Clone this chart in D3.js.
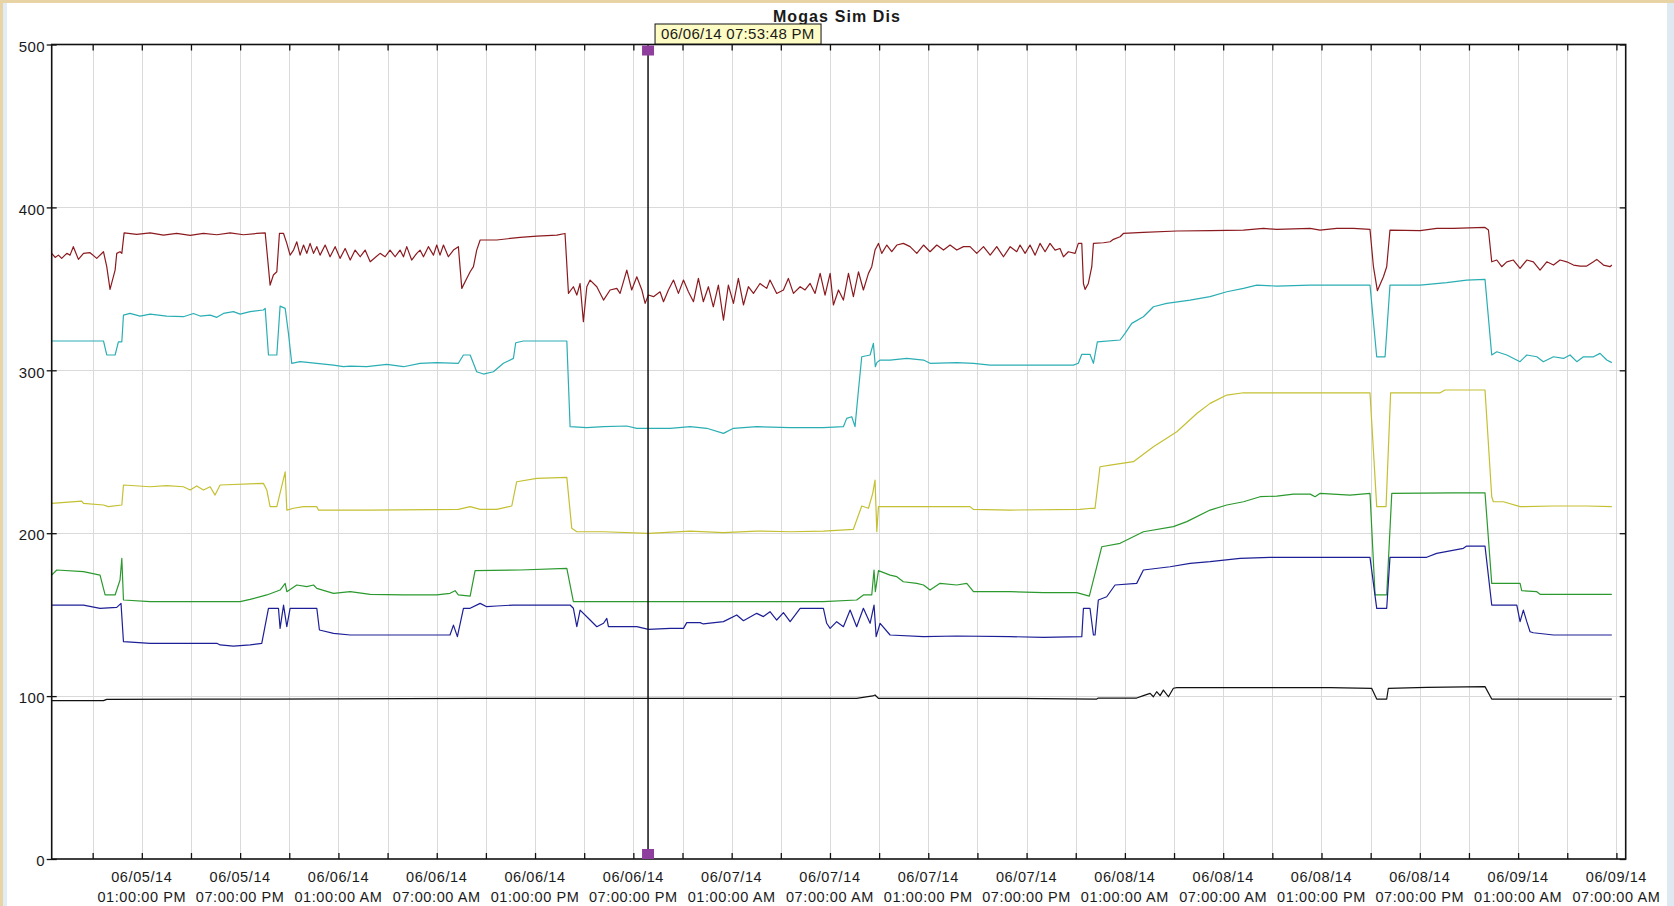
<!DOCTYPE html>
<html>
<head>
<meta charset="utf-8">
<script src="https://cdn.jsdelivr.net/npm/d3@7"></script>
<style>
  html, body { margin: 0; padding: 0; background: #e7d3a4; }
  svg { display: block; }
  text { font-family: "Liberation Sans", Arial, sans-serif; fill: #1a1a1a; }
</style>
</head>
<body>
<svg id="chart" width="1674" height="906"></svg>
<script>
// ---------------- DATA ----------------
const chartTitle = "Mogas Sim Dis";
const startTime = new Date(2014, 5, 5, 7, 30, 0);   // 06/05/14 07:30 AM
const endTime   = new Date(2014, 5, 9, 7, 34, 0);   // 06/09/14 07:34 AM
const cursorTime = new Date(2014, 5, 6, 19, 53, 48);
const cursorLabel = "06/06/14 07:53:48 PM";
const yTicks = [0, 100, 200, 300, 400, 500];

// [hours since start, value]
const seriesRed = [
  [0,371.8],[0.21,369.3],[0.41,370.7],[0.61,368.7],[0.92,371.8],[1.12,370.7],[1.32,375.9],[1.63,368.1],
  [1.94,371.8],[2.34,372.2],[2.75,368.7],[3.16,372.8],[3.36,363.6],[3.56,349.7],[3.87,361.5],[3.97,371.8],
  [4.17,372.8],[4.28,371.8],[4.42,384.4],[5.19,383.4],[6.01,384.4],[6.82,383.0],[7.63,384.0],[8.45,382.8],
  [9.26,384.0],[10.08,383.2],[10.89,384.4],[11.70,383.2],[12.52,384.0],[13.03,384.4],[13.13,373.8],[13.33,352.3],
  [13.53,358.5],[13.74,360.5],[13.90,384.0],[14.15,384.0],[14.35,377.9],[14.55,370.7],[14.76,373.8],[14.96,378.9],
  [15.16,370.7],[15.37,376.9],[15.57,371.8],[15.77,377.9],[15.98,371.8],[16.18,375.9],[16.38,370.7],[16.69,376.9],
  [16.99,369.7],[17.30,375.9],[17.60,368.7],[17.91,374.8],[18.22,367.7],[18.52,373.8],[18.83,369.7],[19.13,373.8],
  [19.44,366.6],[20.04,371.8],[20.35,369.7],[20.65,373.8],[20.96,369.7],[21.26,373.8],[21.47,369.7],[21.67,375.9],
  [21.97,367.7],[22.28,371.8],[22.48,373.8],[22.69,369.7],[22.99,375.9],[23.30,370.7],[23.50,376.9],[23.70,370.7],
  [23.91,376.9],[24.21,369.7],[24.52,373.8],[24.82,375.9],[25.03,350.3],[25.33,356.4],[25.54,360.5],[25.74,363.6],
  [25.94,373.8],[26.15,380.0],[27.16,380.0],[28.59,381.6],[29.61,382.4],[30.83,383.0],[31.33,384.0],[31.54,347.2],
  [31.84,351.3],[32.05,346.2],[32.25,353.3],[32.45,329.8],[32.66,351.3],[32.86,355.4],[33.27,351.3],[33.68,343.1],
  [34.08,349.3],[34.49,350.3],[34.69,347.2],[35.10,361.5],[35.40,349.3],[35.71,357.4],[36.02,349.3],[36.22,341.1],
  [36.42,346.2],[36.73,345.2],[37.13,348.2],[37.34,342.1],[37.64,349.3],[37.95,355.4],[38.25,347.2],[38.56,355.4],
  [38.86,348.2],[39.17,342.1],[39.47,356.4],[39.77,342.1],[40.08,351.3],[40.38,339.0],[40.69,352.3],[41.00,330.8],
  [41.30,352.3],[41.61,341.1],[41.91,356.4],[42.22,340.1],[42.52,351.3],[42.83,347.2],[43.23,353.3],[43.64,350.3],
  [43.84,355.4],[44.25,347.2],[44.66,349.3],[44.96,356.4],[45.27,347.2],[45.68,351.3],[45.98,349.3],[46.29,353.3],
  [46.59,347.2],[46.90,359.5],[47.20,346.2],[47.51,359.5],[47.71,340.1],[48.02,349.3],[48.32,343.1],[48.63,359.5],
  [48.93,345.2],[49.24,360.5],[49.54,349.3],[49.85,359.5],[50.05,363.6],[50.25,373.8],[50.46,377.9],[50.66,371.8],
  [50.97,376.9],[51.27,372.8],[51.58,376.9],[51.98,377.9],[52.39,375.9],[52.80,371.8],[53.21,376.9],[53.61,372.8],
  [54.02,376.9],[54.43,373.8],[54.83,376.9],[55.24,373.8],[55.65,375.9],[56.05,375.9],[56.46,371.8],[56.87,375.9],
  [57.28,370.7],[57.68,375.9],[58.09,369.7],[58.50,375.9],[58.90,372.8],[59.10,376.9],[59.41,371.8],[59.71,376.9],
  [60.02,370.7],[60.32,377.9],[60.63,372.8],[60.93,377.9],[61.24,373.8],[61.54,374.8],[61.75,369.7],[62.05,372.8],
  [62.46,371.8],[62.66,377.9],[62.87,377.9],[62.97,353.3],[63.07,349.7],[63.27,353.3],[63.48,363.6],[63.58,377.9],
  [64.19,378.3],[64.60,378.9],[64.80,380.4],[65.21,382.0],[65.41,384.0],[66.63,384.7],[68.67,385.5],[70.70,385.7],
  [72.74,386.1],[73.96,387.1],[74.77,386.5],[76.81,387.1],[77.41,386.1],[78.43,387.1],[79.45,387.1],[80.46,386.5],
  [80.67,363.6],[80.91,348.9],[81.28,357.4],[81.48,363.6],[81.68,386.1],[83.52,385.7],[84.53,387.1],[85.55,387.1],
  [87.48,387.7],[87.69,386.1],[87.89,366.6],[88.20,367.7],[88.50,363.6],[88.81,366.6],[89.21,367.7],[89.62,362.6],
  [90.03,367.7],[90.43,366.6],[90.84,361.5],[91.25,366.6],[91.66,364.6],[92.06,367.7],[92.47,366.6],[92.88,364.6],
  [93.28,364.0],[93.69,364.0],[94.10,366.6],[94.30,368.1],[94.71,364.6],[95.11,363.6],[95.22,364.6]
];

const seriesCyan = [
  [0,318.0],[3.16,318.0],[3.36,309.4],[3.87,309.4],[4.07,317.5],[4.28,317.5],[4.38,333.9],[4.78,334.9],
  [5.39,333.3],[6.01,334.5],[7.02,333.3],[8.04,332.9],[8.65,334.9],[9.06,333.3],[9.67,333.9],[10.08,332.5],
  [10.48,334.9],[11.09,336.0],[11.50,334.5],[12.11,336.0],[12.92,337.0],[13.03,338.0],[13.23,309.4],[13.74,309.4],
  [13.94,339.4],[14.25,338.0],[14.45,322.7],[14.65,304.3],[15.16,305.3],[16.18,304.3],[17.20,303.2],[17.81,302.2],
  [18.22,302.6],[19.23,302.2],[20.45,303.6],[21.47,302.2],[22.48,304.3],[23.50,304.7],[24.82,304.3],[25.13,309.4],
  [25.54,309.4],[25.94,299.1],[26.35,297.7],[26.96,299.1],[27.57,304.3],[28.18,307.3],[28.32,316.9],[28.79,318.0],
  [31.44,318.0],[31.64,265.4],[32.66,264.8],[33.68,265.4],[35.10,265.8],[35.71,264.4],[36.73,264.4],[37.75,264.4],
  [38.97,265.4],[39.98,264.4],[41.00,261.3],[41.61,264.4],[43.03,265.4],[45.07,264.8],[47.10,264.8],[48.32,265.4],
  [48.52,270.5],[48.83,271.5],[49.03,265.4],[49.24,287.9],[49.44,308.3],[49.95,309.4],[50.15,316.5],[50.27,302.2],
  [50.36,304.7],[50.56,306.3],[51.17,306.3],[52.19,307.3],[53.21,306.3],[53.61,304.3],[55.24,304.7],[56.26,304.3],
  [57.28,303.2],[58.29,303.2],[60.53,303.2],[62.36,303.2],[62.66,304.3],[62.87,309.8],[63.37,309.8],[63.58,304.3],
  [63.82,317.5],[65.21,318.6],[65.51,322.7],[65.92,328.8],[66.63,332.9],[67.24,339.0],[68.05,341.1],[69.48,343.1],
  [70.70,345.2],[71.72,348.2],[72.74,350.3],[73.55,352.3],[74.77,351.7],[76.81,352.3],[77.41,352.3],[80.46,352.3],
  [80.87,308.3],[81.38,308.3],[81.68,352.3],[83.52,352.3],[85.14,353.8],[86.36,355.4],[87.48,355.8],[87.89,309.4],
  [88.20,311.4],[88.81,309.4],[89.62,305.3],[90.03,309.4],[90.64,308.3],[91.04,305.3],[91.66,308.3],[92.27,307.3],
  [92.67,309.4],[93.08,305.3],[93.49,308.3],[94.10,308.3],[94.50,310.4],[94.91,306.3],[95.22,304.7]
];

const seriesYellow = [
  [0,218.3],[1.83,219.7],[1.94,218.3],[3.16,217.3],[3.46,216.3],[4.28,217.3],[4.38,229.6],[6.01,228.5],
  [7.02,229.2],[8.04,228.5],[8.45,226.5],[8.85,229.0],[9.26,226.5],[9.67,228.5],[9.97,223.4],[10.28,229.6],
  [12.92,230.6],[13.13,226.5],[13.33,216.3],[13.74,216.3],[14.25,237.7],[14.35,214.2],[14.76,215.3],[15.37,216.3],
  [16.18,216.3],[16.28,214.2],[19.44,214.2],[24.82,214.6],[25.54,216.3],[26.15,214.6],[27.16,214.6],[28.08,216.7],
  [28.38,231.6],[29.61,233.7],[31.44,234.3],[31.74,203.0],[32.05,200.9],[33.68,200.9],[36.42,199.9],[38.97,201.3],
  [41.00,200.3],[43.03,201.3],[45.07,200.9],[47.10,201.3],[48.93,202.4],[49.44,216.7],[49.85,215.3],[50.11,224.5],
  [50.25,232.6],[50.36,200.9],[50.46,216.3],[51.17,216.3],[56.05,216.3],[56.26,214.6],[58.50,214.2],[62.76,214.6],
  [63.48,215.3],[63.68,215.3],[63.98,240.8],[64.60,241.8],[66.02,243.9],[67.24,253.1],[68.67,262.3],[69.89,273.5],
  [70.70,279.7],[71.72,284.8],[72.74,286.2],[76.81,286.2],[80.46,286.2],[80.87,216.3],[81.44,216.3],[81.72,286.2],
  [84.74,286.2],[85.04,287.9],[87.48,287.9],[87.89,222.4],[87.99,219.3],[88.60,219.3],[89.62,216.3],[91.66,216.7],
  [93.69,216.7],[95.22,216.3]
];

const seriesGreen = [
  [0,174.3],[0.31,177.4],[1.94,176.4],[2.95,174.3],[3.26,162.1],[3.87,162.1],[4.17,171.3],[4.28,184.5],
  [4.38,159.0],[6.01,158.0],[8.04,158.0],[11.50,158.0],[12.11,159.4],[13.13,162.1],[13.94,165.1],[14.25,169.2],
  [14.35,164.1],[14.96,168.2],[15.57,167.2],[15.98,168.2],[16.18,166.1],[17.20,163.1],[18.22,164.1],[19.44,162.5],
  [21.47,162.1],[23.50,162.1],[24.31,163.1],[24.62,164.7],[24.82,162.1],[25.54,161.4],[25.84,177.0],[28.59,177.4],
  [31.44,178.4],[31.84,158.0],[38.97,158.0],[47.10,158.0],[49.13,159.0],[49.54,162.1],[50.05,162.1],[50.19,177.4],
  [50.27,164.1],[50.46,177.0],[51.17,174.3],[51.58,173.3],[51.98,170.2],[52.80,169.2],[53.21,168.2],[53.61,165.1],
  [54.22,169.2],[55.24,168.2],[55.85,169.2],[56.26,164.1],[58.50,164.1],[60.53,163.5],[62.56,163.5],[63.33,161.4],
  [64.09,191.7],[65.21,193.8],[66.63,200.9],[68.46,204.0],[69.28,207.1],[70.70,214.2],[71.72,217.3],[72.74,219.3],
  [73.75,222.4],[74.77,222.8],[75.79,224.0],[76.81,224.0],[77.11,222.4],[77.42,224.5],[79.24,223.4],[80.46,224.5],
  [80.77,162.1],[81.48,162.1],[81.79,224.5],[85.55,224.8],[87.48,224.8],[87.89,169.2],[89.62,169.2],[89.72,164.7],
  [90.64,164.1],[90.84,162.5],[95.22,162.5]
];

const seriesBlue = [
  [0,155.9],[1.94,155.9],[2.95,153.9],[3.97,154.5],[4.23,156.9],[4.38,133.4],[6.01,132.4],[10.08,132.4],
  [10.28,131.4],[11.09,130.7],[12.11,131.4],[12.82,132.4],[13.23,153.9],[13.84,153.9],[13.94,141.6],[14.15,155.9],
  [14.35,142.6],[14.55,153.9],[16.18,153.9],[16.34,140.6],[17.20,138.5],[18.22,137.5],[19.44,137.5],[21.47,137.5],
  [24.31,137.5],[24.52,143.6],[24.76,136.5],[25.13,153.9],[25.54,153.9],[26.15,156.9],[26.55,154.9],[27.16,155.3],
  [28.18,155.9],[31.64,155.9],[31.84,153.9],[32.05,142.6],[32.25,152.8],[32.86,146.7],[33.27,142.6],[33.68,144.7],
  [33.88,147.7],[33.98,142.6],[34.69,142.6],[35.71,142.6],[36.42,141.0],[37.75,141.6],[38.56,141.6],[38.76,145.1],
  [39.58,145.1],[39.77,144.3],[41.00,145.7],[41.81,149.8],[42.22,146.3],[43.03,150.8],[43.44,148.8],[43.84,151.8],
  [44.25,146.7],[44.66,151.2],[45.07,145.7],[45.68,153.9],[47.10,153.9],[47.30,144.7],[47.51,141.6],[47.91,145.7],
  [48.32,142.6],[48.73,152.8],[49.13,142.6],[49.54,153.9],[49.95,144.7],[50.19,155.9],[50.32,136.5],[50.56,144.7],
  [51.17,137.5],[53.21,136.5],[55.24,136.9],[58.50,136.5],[60.53,136.1],[62.87,136.5],[62.97,153.9],[63.37,153.9],
  [63.58,137.5],[63.68,137.5],[63.88,159.0],[64.39,161.0],[64.90,168.2],[66.22,169.2],[66.63,177.4],[68.26,179.4],
  [69.48,181.5],[70.70,182.5],[72.53,184.5],[74.36,185.2],[78.02,185.2],[80.46,185.2],[80.87,153.9],[81.48,153.9],
  [81.68,185.2],[83.92,185.2],[84.53,187.6],[86.16,190.7],[86.36,192.1],[87.48,192.1],[87.89,155.9],[89.42,155.9],
  [89.62,145.7],[89.82,152.8],[90.03,145.7],[90.23,139.5],[90.43,138.9],[91.66,137.5],[95.22,137.5]
];

const seriesBlack = [
  [0,97.2],[3.16,97.2],[3.36,98.0],[8.85,98.2],[13.13,98.2],[25.84,98.6],[31.64,98.6],[49.13,98.6],
  [50.11,100.1],[50.25,100.7],[50.46,98.6],[58.50,98.6],[63.78,98.2],[63.88,98.8],[66.22,98.8],[66.63,100.3],
  [67.04,101.7],[67.24,99.6],[67.44,102.7],[67.65,100.3],[67.85,103.7],[68.16,99.6],[68.46,104.8],[68.67,105.2],
  [78.02,105.2],[80.56,104.8],[80.87,98.2],[81.48,98.2],[81.58,104.8],[83.92,105.4],[87.48,105.8],[87.89,98.2],
  [95.22,98.2]
];

const seriesList = [
  { name: "red",    data: seriesRed,    color: "#8b1a1f" },
  { name: "cyan",   data: seriesCyan,   color: "#2aaeb4" },
  { name: "yellow", data: seriesYellow, color: "#c4c033" },
  { name: "green",  data: seriesGreen,  color: "#2b992e" },
  { name: "blue",   data: seriesBlue,   color: "#1d1f96" },
  { name: "black",  data: seriesBlack,  color: "#111111" }
];

// ---------------- LAYOUT ----------------
const W = 1674, H = 906;
const plot = { left: 51.7, right: 1625.7, top: 44.5, bottom: 859 };
const svg = d3.select("#chart");

// panel background
svg.append("rect").attr("x", 3).attr("y", 3).attr("width", W - 3).attr("height", H - 3).attr("fill", "#ffffff");
svg.append("rect").attr("x", 3).attr("y", 3).attr("width", 4).attr("height", H - 3).attr("fill", "#e2ecf4");
svg.append("rect").attr("x", 1667).attr("y", 3).attr("width", 7).attr("height", H - 3).attr("fill", "#dfe9f2");

const x = d3.scaleTime().domain([startTime, endTime]).range([plot.left, plot.right]);
const y = d3.scaleLinear().domain([0, 500]).range([plot.bottom, plot.top]);
const toDate = h => new Date(startTime.getTime() + h * 3600 * 1000);

const tickInterval = d3.timeHour.filter(d => d.getHours() % 3 === 1);
const xTicks = tickInterval.range(startTime, endTime);
const labelTicks = xTicks.filter(d => d.getHours() % 6 === 1);

// grid
const grid = svg.append("g").attr("stroke", "#dadada").attr("stroke-width", 1);
grid.selectAll("line.vx").data(xTicks).join("line")
  .attr("x1", d => Math.round(x(d)) + 0.5).attr("x2", d => Math.round(x(d)) + 0.5)
  .attr("y1", plot.top).attr("y2", plot.bottom);
grid.selectAll("line.hy").data(yTicks.filter(v => v > 0 && v < 500)).join("line")
  .attr("x1", plot.left).attr("x2", plot.right)
  .attr("y1", d => Math.round(y(d)) + 0.5).attr("y2", d => Math.round(y(d)) + 0.5);

// clip
svg.append("clipPath").attr("id", "clip").append("rect")
  .attr("x", plot.left).attr("y", plot.top)
  .attr("width", plot.right - plot.left).attr("height", plot.bottom - plot.top);

const line = d3.line().x(d => x(toDate(d[0]))).y(d => y(d[1]));
svg.append("g").attr("clip-path", "url(#clip)")
  .selectAll("path").data(seriesList).join("path")
  .attr("d", d => line(d.data))
  .attr("fill", "none")
  .attr("stroke", d => d.color)
  .attr("stroke-width", 1.2)
  .attr("stroke-linejoin", "round");

// axes (ticks)
function styleAxis(g) {
  g.select(".domain").remove();
  g.selectAll(".tick line").attr("stroke", "#111").attr("stroke-width", 1.3);
}
svg.append("g").attr("transform", `translate(0,${plot.bottom})`)
  .call(d3.axisBottom(x).tickValues(xTicks).tickSize(-6).tickFormat(""))
  .call(styleAxis);
svg.append("g").attr("transform", `translate(0,${plot.top})`)
  .call(d3.axisTop(x).tickValues(xTicks).tickSize(-6).tickFormat(""))
  .call(styleAxis);
svg.append("g").attr("transform", `translate(${plot.left},0)`)
  .call(d3.axisLeft(y).tickValues(yTicks).tickSize(5).tickFormat(""))
  .call(styleAxis);
svg.append("g").attr("transform", `translate(${plot.left},0)`)
  .call(d3.axisLeft(y).tickValues(yTicks).tickSize(-5).tickFormat(""))
  .call(styleAxis);
svg.append("g").attr("transform", `translate(${plot.right},0)`)
  .call(d3.axisRight(y).tickValues(yTicks).tickSize(-6).tickFormat(""))
  .call(styleAxis);

// frame
svg.append("rect")
  .attr("x", plot.left).attr("y", plot.top)
  .attr("width", plot.right - plot.left).attr("height", plot.bottom - plot.top)
  .attr("fill", "none").attr("stroke", "#111").attr("stroke-width", 1.6);

// y labels
svg.append("g").selectAll("text").data(yTicks).join("text")
  .attr("x", 45).attr("y", d => y(d) + 2).attr("dy", "0.35em")
  .attr("text-anchor", "end").attr("font-size", 15).attr("letter-spacing", 0.4)
  .text(d => d);

// x labels
const fmtDate = d3.timeFormat("%m/%d/%y");
const fmtTime = d3.timeFormat("%I:%M:%S %p");
const xl = svg.append("g").selectAll("g").data(labelTicks).join("g")
  .attr("transform", d => `translate(${x(d)},0)`);
xl.append("text").attr("y", 882).attr("text-anchor", "middle").attr("font-size", 14.5)
  .attr("letter-spacing", 0.6).text(d => fmtDate(d));
xl.append("text").attr("y", 902).attr("text-anchor", "middle").attr("font-size", 14.5)
  .attr("letter-spacing", 0.6).text(d => fmtTime(d));

// title
svg.append("text").attr("x", 837).attr("y", 22).attr("text-anchor", "middle")
  .attr("font-size", 16).attr("font-weight", "bold").attr("letter-spacing", 1.1)
  .text(chartTitle);

// cursor
const cx = x(cursorTime);
svg.append("line").attr("x1", cx).attr("x2", cx).attr("y1", plot.top).attr("y2", plot.bottom)
  .attr("stroke", "#111").attr("stroke-width", 1.5);
svg.append("rect").attr("x", cx - 6).attr("y", plot.top + 1).attr("width", 12).attr("height", 10)
  .attr("fill", "#8e3f9e");
svg.append("rect").attr("x", cx - 6).attr("y", plot.bottom - 10).attr("width", 12).attr("height", 10)
  .attr("fill", "#8e3f9e");
svg.append("rect").attr("x", cx + 7).attr("y", 24).attr("width", 166).attr("height", 20)
  .attr("fill", "#fdfcc4").attr("stroke", "#111").attr("stroke-width", 1);
svg.append("text").attr("x", cx + 13).attr("y", 39).attr("font-size", 15).attr("letter-spacing", 0.3)
  .text(cursorLabel);
</script>
</body>
</html>
